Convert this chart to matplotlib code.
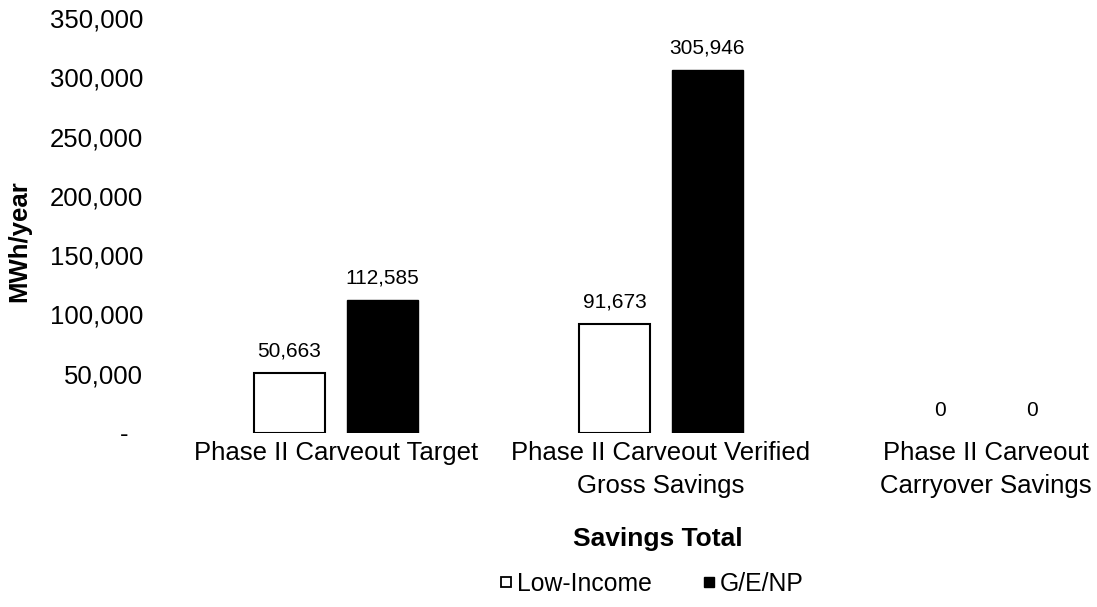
import numpy as np
import matplotlib.pyplot as plt
from matplotlib.ticker import FuncFormatter
from matplotlib.lines import Line2D

plt.rcParams['font.family'] = ['Liberation Sans', 'DejaVu Sans']

# -----------------------------
# Data
# -----------------------------
categories = ['Phase II Carveout Target',
              'Phase II Carveout Verified\nGross Savings',
              'Phase II Carveout\nCarryover Savings']
low_income = [50663, 91673, 0]
ge_np = [112585, 305946, 0]
series_names = ['Low-Income', 'G/E/NP']

# -----------------------------
# Figure setup
# -----------------------------
W, H = 1097, 607
fig = plt.figure(figsize=(W / 100, H / 100), dpi=100)
# plot area in pixels: one category = 325 px, first centre at x=336
left_px, bottom_px, top_px = 336 - 162.5, 433, 18
ax = fig.add_axes([left_px / W, (H - bottom_px) / H,
                   975 / W, (bottom_px - top_px) / H])

x = np.arange(len(categories))
width = 0.22
off = 0.143

b1 = ax.bar(x - off, low_income, width, color='white', edgecolor='black', linewidth=1.5)
b2 = ax.bar(x + off, ge_np, width, color='black', edgecolor='black', linewidth=1.0)

for bars, vals in ((b1, low_income), (b2, ge_np)):
    for rect, v in zip(bars, vals):
        if v == 0:
            rect.set_linewidth(0)  # empty bars show nothing, only the label
        ax.annotate(f'{v:,}', (rect.get_x() + rect.get_width() / 2, v),
                    xytext=(0, 9), textcoords='offset points',
                    ha='center', va='bottom', fontsize=15)

ax.set_xlim(-0.5, len(categories) - 0.5)
ax.set_ylim(0, 350000)
ax.set_yticks(np.arange(0, 350001, 50000))
# accounting style: zero shown as a dash
ax.yaxis.set_major_formatter(FuncFormatter(lambda v, p: '-  ' if v == 0 else f'{int(v):,}'))
ax.set_xticks(x)
ax.set_xticklabels(categories, fontsize=18.5, linespacing=1.48)
ax.tick_params(axis='y', labelsize=18.5, length=0, pad=22)
ax.tick_params(axis='x', length=0, pad=6)
for s in ax.spines.values():
    s.set_visible(False)

fig.text(19 / W, 1 - 241 / H, 'MWh/year', rotation=90, ha='center', va='center',
         fontsize=18.5, fontweight='bold')
fig.text(658 / W, 1 - 539 / H, 'Savings Total', ha='center', va='center',
         fontsize=19, fontweight='bold')

handles = [Line2D([], [], marker='s', linestyle='none', markerfacecolor='white',
                  markeredgecolor='black', markersize=7.5, markeredgewidth=1.3),
           Line2D([], [], marker='s', linestyle='none', markerfacecolor='black',
                  markeredgecolor='black', markersize=7.5)]
fig.legend(handles, series_names, loc='center', bbox_to_anchor=(650 / W, 1 - 584 / H),
           ncol=2, frameon=False, fontsize=17.8, handletextpad=0.05, columnspacing=1.9,
           handlelength=0.8, borderpad=0)

fig.savefig('out.png', dpi=100)
